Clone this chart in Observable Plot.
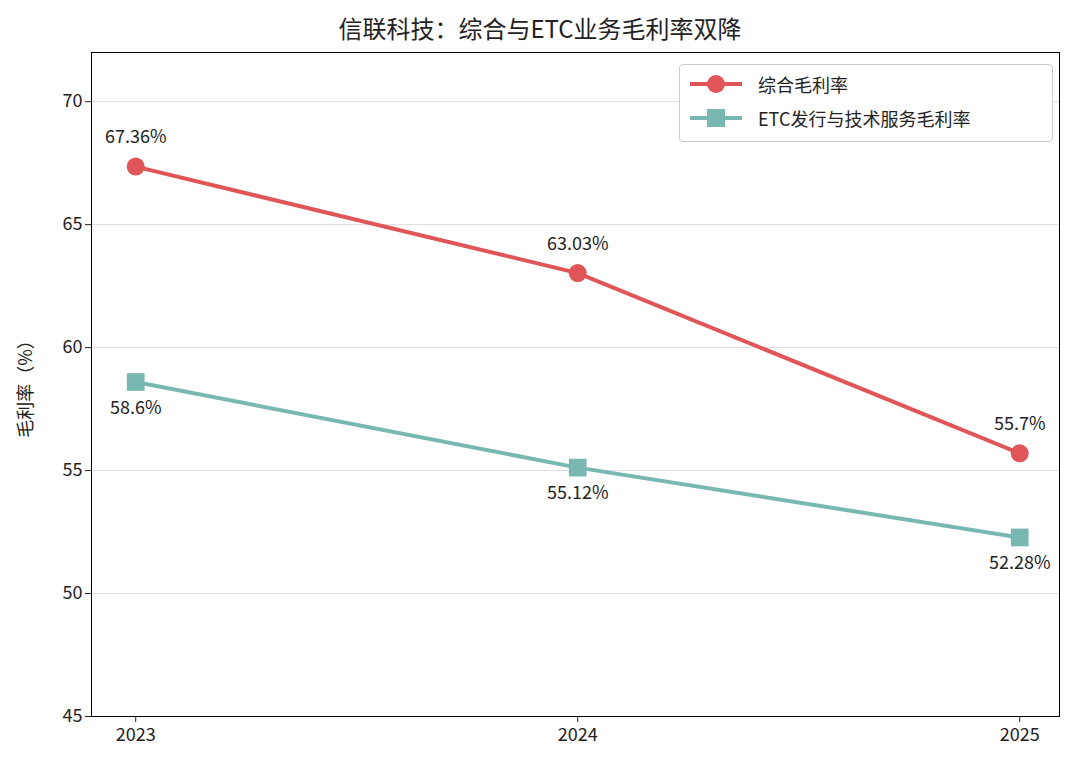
<!DOCTYPE html>
<html><head><meta charset="utf-8">
<script src="https://cdn.jsdelivr.net/npm/d3@7"></script>
<script src="https://cdn.jsdelivr.net/npm/@observablehq/plot@0.6"></script>
<style>
body{margin:0;background:#fff;font-family:"Noto Sans CJK SC","Noto Sans",sans-serif;}
#wrap{position:relative;width:1080px;}
#title{height:40px;line-height:56px;text-align:center;font-size:24px;color:#222;}
#legend{position:absolute;left:679px;top:64px;width:372px;height:76px;border:1px solid #ccc;border-radius:4px;background:#fff;font-size:18px;color:#222;}
.row{position:absolute;left:8px;height:30px;display:flex;align-items:center;}
.row svg{margin-right:14px;}
</style></head><body>
<div id="wrap">
<div id="title">信联科技：综合与ETC业务毛利率双降</div>
<div id="chart"></div>
<div id="legend">
 <div class="row" style="top:4px"><svg width="56" height="20"><line x1="2" x2="54" y1="10" y2="10" stroke="#e05558" stroke-width="4"/><circle cx="28" cy="10" r="9" fill="#e05558"/></svg>综合毛利率</div>
 <div class="row" style="top:38px"><svg width="56" height="20"><line x1="2" x2="54" y1="10" y2="10" stroke="#79b8b1" stroke-width="4"/><rect x="19" y="1" width="18" height="18" fill="#79b8b1"/></svg>ETC发行与技术服务毛利率</div>
</div>
</div>
<script>
const years = [2023, 2024, 2025];
const overall = [67.36, 63.03, 55.7];
const etc = [58.6, 55.12, 52.28];
const overallLabels = ["67.36%", "63.03%", "55.7%"];
const etcLabels = ["58.6%", "55.12%", "52.28%"];
const yTicks = [45, 50, 55, 60, 65, 70];

const A = years.map((y,i)=>({year:y, v:overall[i], label:overallLabels[i]}));
const B = years.map((y,i)=>({year:y, v:etc[i], label:etcLabels[i]}));
const red = "#e05558", teal = "#79b8b1";

const chart = Plot.plot({
  width:1080, height:729,
  marginTop:12, marginBottom:53, marginLeft:91, marginRight:21,
  style:{fontFamily:'"Noto Sans CJK SC","Noto Sans",sans-serif', fontSize:"18px", color:"#222"},
  x:{domain:[2022.9, 2025.09], ticks:years, tickFormat:d=>String(d), label:null, tickSize:6, tickPadding:6},
  y:{domain:[45,72], ticks:yTicks, label:"毛利率（%）", labelAnchor:"center", labelArrow:"none", labelOffset:72, tickSize:6},
  marks:[
    Plot.gridY(yTicks, {stroke:"#ddd", strokeOpacity:1}),
    Plot.frame({stroke:"#000"}),
    Plot.line(A, {x:"year", y:"v", stroke:red, strokeWidth:4}),
    Plot.dot(A, {x:"year", y:"v", fill:red, r:9}),
    Plot.line(B, {x:"year", y:"v", stroke:teal, strokeWidth:4}),
    Plot.dot(B, {x:"year", y:"v", fill:teal, symbol:"square", r:10}),
    Plot.text(A, {x:"year", y:"v", text:"label", dy:-29, fontSize:18, fill:"#222"}),
    Plot.text(B, {x:"year", y:"v", text:"label", dy:26, fontSize:18, fill:"#222"})
  ]
});
document.getElementById("chart").appendChild(chart);
</script>
</body></html>
